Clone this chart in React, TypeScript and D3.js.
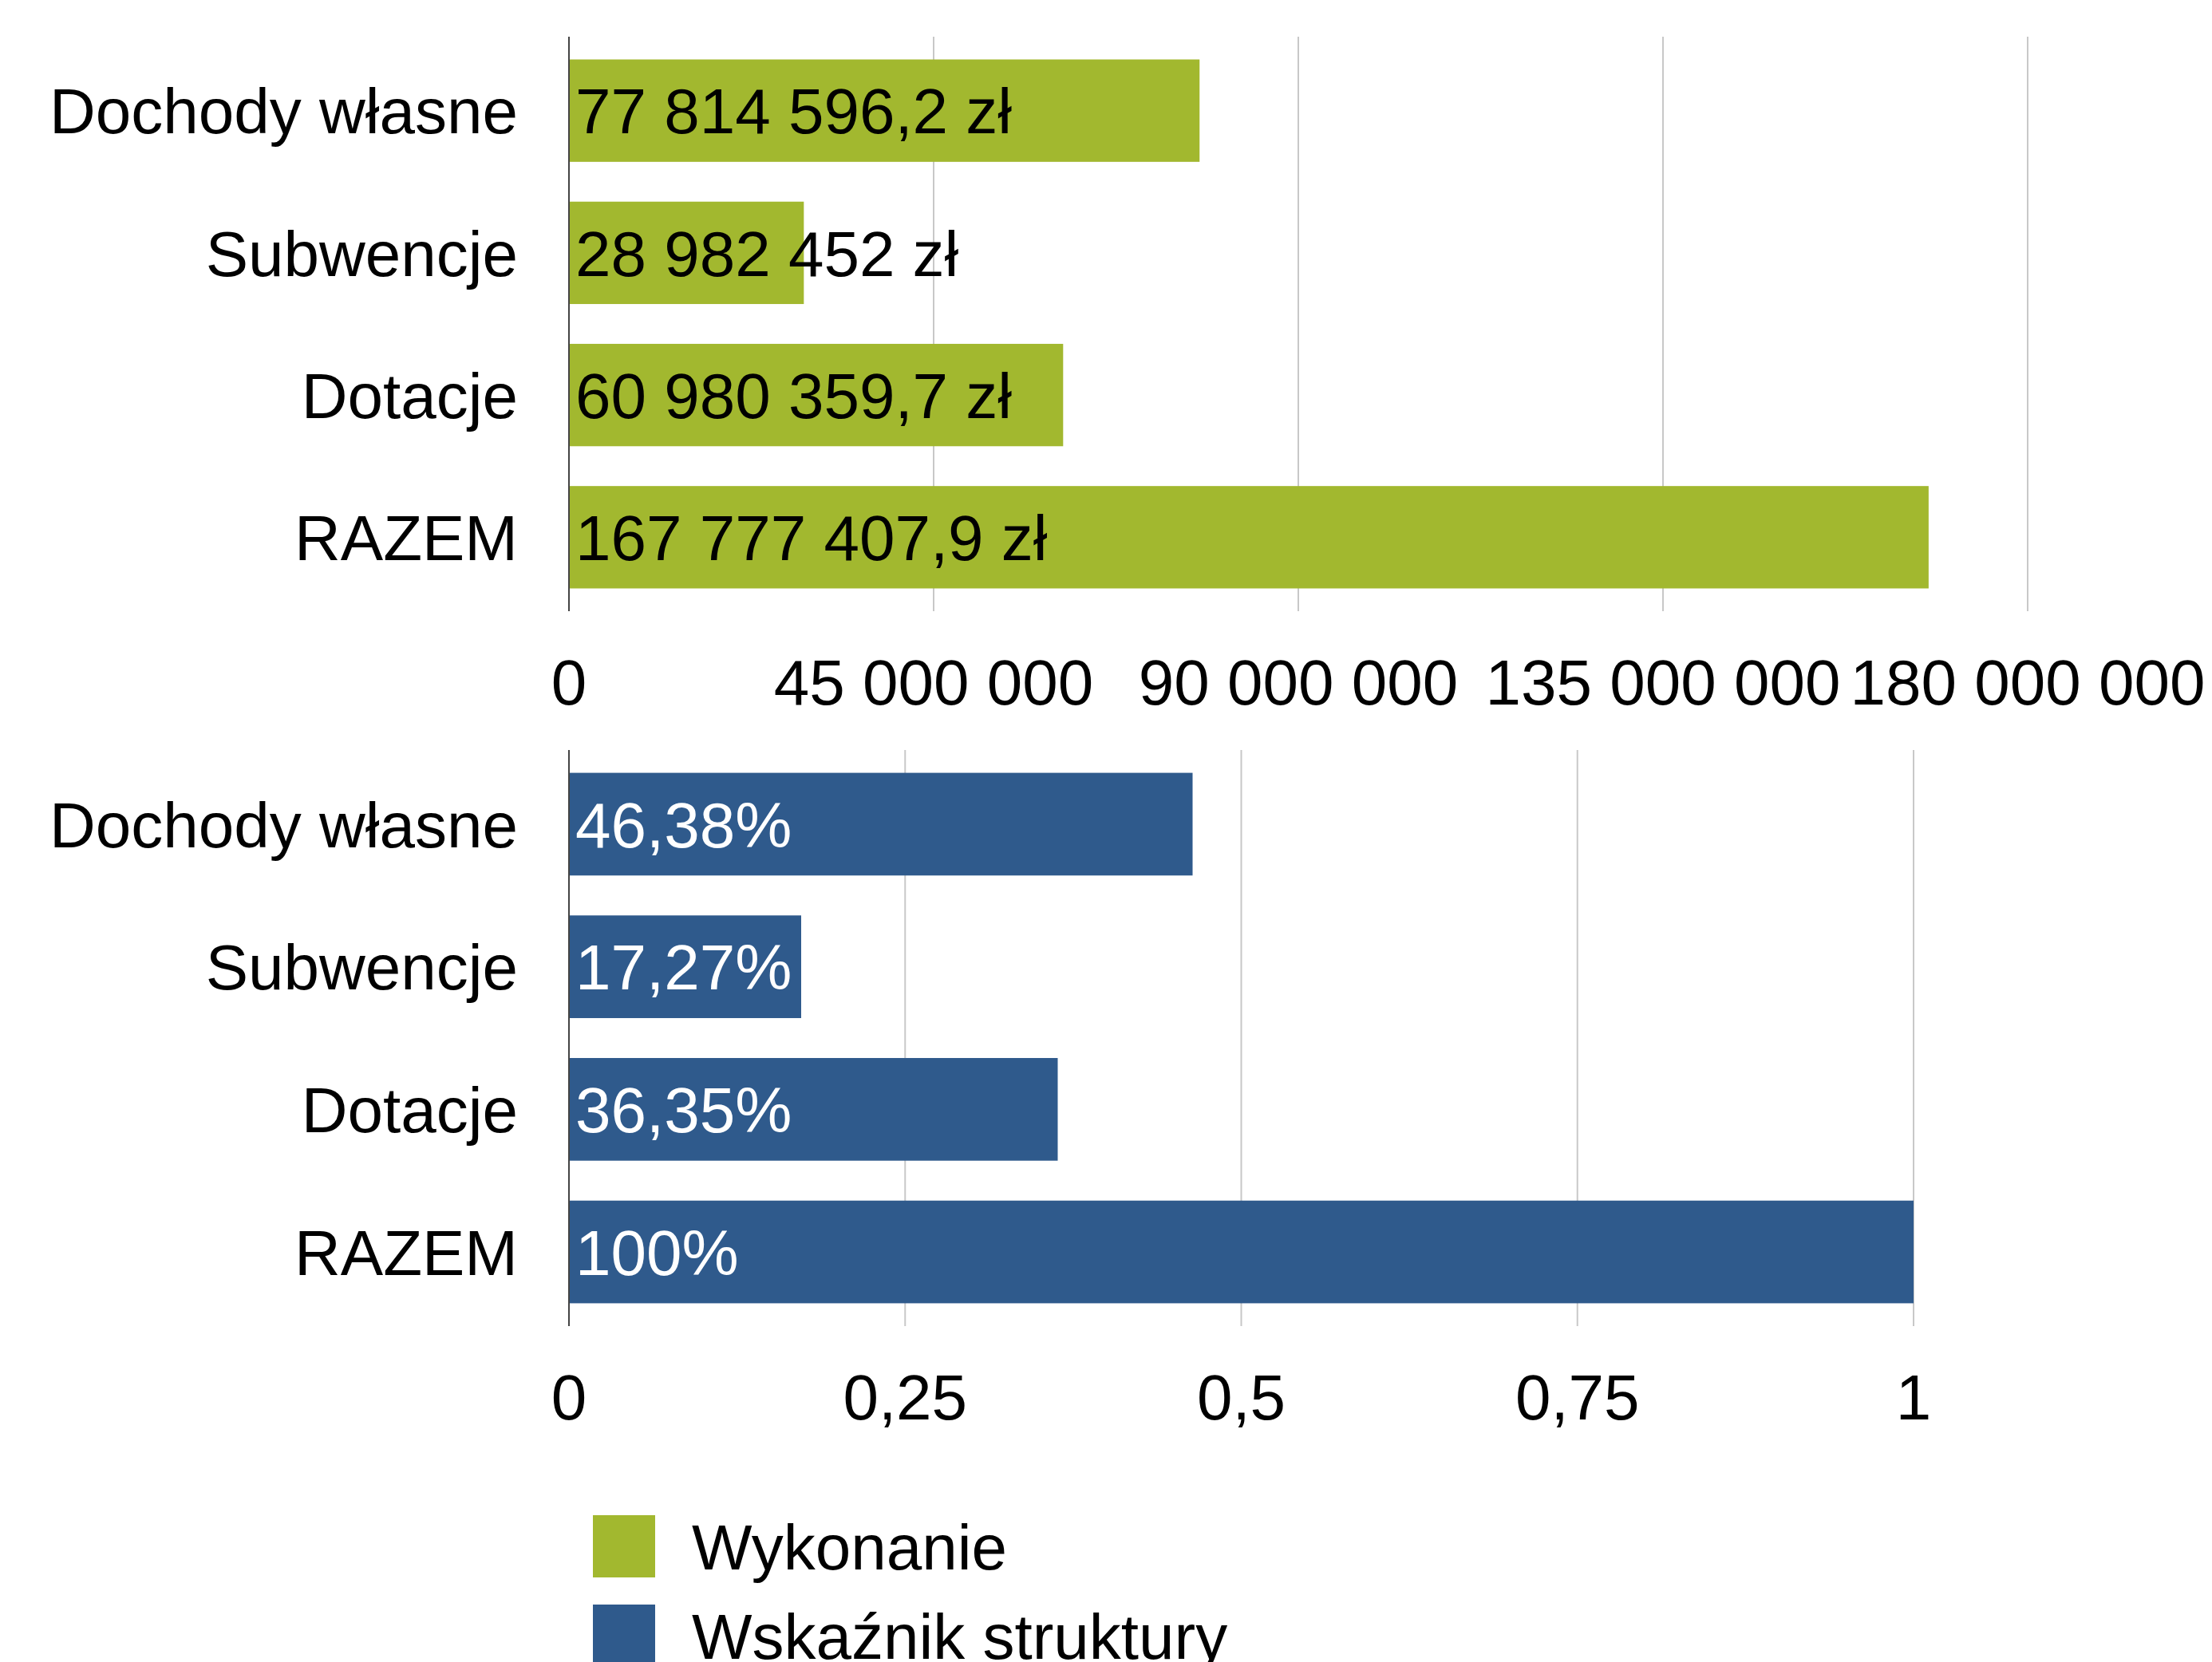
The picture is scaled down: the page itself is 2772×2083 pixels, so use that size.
import React from "react";
import * as d3 from "d3";

const categories = ["Dochody własne", "Subwencje", "Dotacje", "RAZEM"];
const wykonanie = [77814596.2, 28982452, 60980359.7, 167777407.9];
const wskaznik = [0.4638, 0.1727, 0.3635, 1];
const topTicks = [0, 45000000, 90000000, 135000000, 180000000];
const bottomTicks = [0, 0.25, 0.5, 0.75, 1];
const legendLabels = ["Wykonanie", "Wskaźnik struktury"];

const GREEN = "#A2B82F";
const BLUE = "#2F5A8C";
const GRID = "#C8C8C8";
const AXIS = "#444444";
const FONT = "'Liberation Sans', Arial, Helvetica, sans-serif";
const FS = 80;

const locale = d3.formatLocale({
  decimal: ",",
  thousands: " ",
  grouping: [3],
  currency: ["", " zł"],
  percent: "%",
});
const fmtMoney = (v: number) => locale.format(",.1~f")(v) + " zł";
const fmtPct = locale.format(".2~%");
const fmtTopTick = locale.format(",d");
const fmtBottomTick = locale.format(",.2~f");

const W = 2772;
const H = 2083;
const X0 = 713;

function Panel({
  values,
  ticks,
  xMax,
  xMaxPx,
  yTop,
  yBottom,
  color,
  labelColor,
  fmtValue,
  fmtTick,
}: {
  values: number[];
  ticks: number[];
  xMax: number;
  xMaxPx: number;
  yTop: number;
  yBottom: number;
  color: string;
  labelColor: string;
  fmtValue: (v: number) => string;
  fmtTick: (v: number) => string;
}) {
  const x = d3.scaleLinear().domain([0, xMax]).range([X0, xMaxPx]);
  const y = d3
    .scaleBand<string>()
    .domain(categories)
    .range([yTop, yBottom])
    .paddingInner(0.28)
    .paddingOuter(0.16);
  return (
    <g>
      {ticks
        .filter((t) => t !== 0)
        .map((t) => (
          <line
            key={"g" + t}
            x1={x(t)}
            x2={x(t)}
            y1={yTop}
            y2={yBottom}
            stroke={GRID}
            strokeWidth={2}
          />
        ))}
      {values.map((v, i) => (
        <rect
          key={"b" + i}
          x={x(0)}
          y={y(categories[i])}
          width={x(v) - x(0)}
          height={y.bandwidth()}
          fill={color}
        />
      ))}
      <line x1={X0} x2={X0} y1={yTop} y2={yBottom} stroke={AXIS} strokeWidth={2} />
      {categories.map((c) => (
        <text
          key={"c" + c}
          x={X0 - 64}
          y={(y(c) as number) + y.bandwidth() / 2}
          dy="0.36em"
          textAnchor="end"
          fontSize={FS}
          fontFamily={FONT}
          fill="#000"
        >
          {c}
        </text>
      ))}
      {values.map((v, i) => (
        <text
          key={"v" + i}
          x={X0 + 8}
          y={(y(categories[i]) as number) + y.bandwidth() / 2}
          dy="0.36em"
          textAnchor="start"
          fontSize={FS}
          fontFamily={FONT}
          fill={labelColor}
        >
          {fmtValue(v)}
        </text>
      ))}
      {ticks.map((t) => (
        <text
          key={"t" + t}
          x={x(t)}
          y={yBottom + 117}
          textAnchor="middle"
          fontSize={FS}
          fontFamily={FONT}
          fill="#000"
        >
          {fmtTick(t)}
        </text>
      ))}
    </g>
  );
}

export default function App() {
  const legendColors = [GREEN, BLUE];
  return (
    <svg
      width={W}
      height={H}
      viewBox={`0 0 ${W} ${H}`}
      style={{ position: "absolute", left: 0, top: 0, background: "#fff" }}
    >
      <rect x={0} y={0} width={W} height={H} fill="#fff" />
      <Panel
        values={wykonanie}
        ticks={topTicks}
        xMax={180000000}
        xMaxPx={2541}
        yTop={46}
        yBottom={766}
        color={GREEN}
        labelColor="#000"
        fmtValue={fmtMoney}
        fmtTick={fmtTopTick}
      />
      <Panel
        values={wskaznik}
        ticks={bottomTicks}
        xMax={1}
        xMaxPx={2398}
        yTop={940}
        yBottom={1662}
        color={BLUE}
        labelColor="#fff"
        fmtValue={fmtPct}
        fmtTick={fmtBottomTick}
      />
      {legendLabels.map((l, i) => (
        <g key={l} transform={`translate(743, ${1899 + i * 112})`}>
          <rect x={0} y={0} width={78} height={78} fill={legendColors[i]} />
          <text x={124} y={68} fontSize={FS} fontFamily={FONT} fill="#000">
            {l}
          </text>
        </g>
      ))}
    </svg>
  );
}
